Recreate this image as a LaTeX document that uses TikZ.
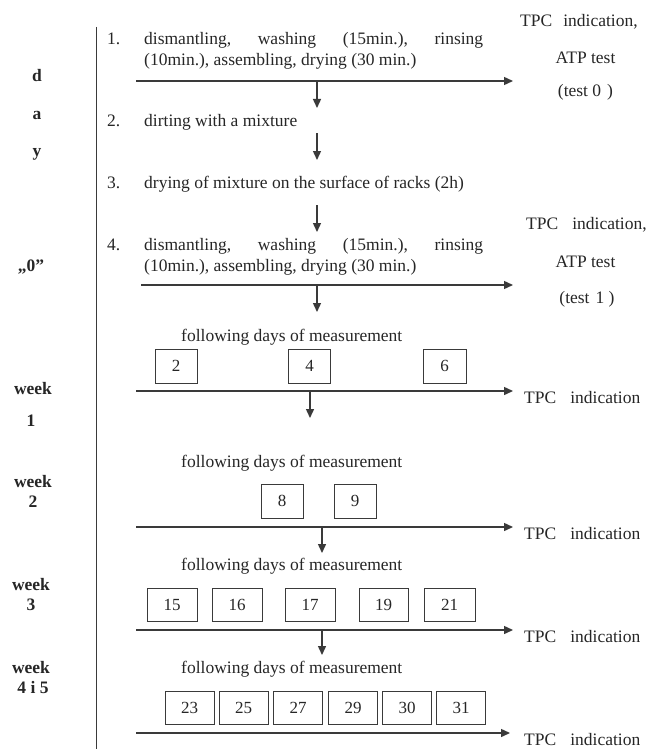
\documentclass[tikz,border=0pt]{standalone}
\usepackage{fontspec}
\setmainfont{Liberation Serif}
\usetikzlibrary{arrows.meta}
\definecolor{ink}{HTML}{262626}
\definecolor{rule}{HTML}{3A3A3A}
\begin{document}
\begin{tikzpicture}[x=1pt,y=-1pt,
  txt/.style={inner sep=0pt, anchor=base west, font=\fontsize{17.5}{21}\selectfont, text=ink},
  ctxt/.style={inner sep=0pt, anchor=base, font=\fontsize{17.5}{21}\selectfont, text=ink},
  lab/.style={inner sep=0pt, anchor=base, font=\bfseries\fontsize{17.5}{21}\selectfont, text=ink},
  daybox/.style={draw=rule, line width=1pt, minimum height=33pt, inner sep=0pt, font=\fontsize{17}{20}\selectfont, text=ink},
  flow/.style={draw=rule, line width=1.4pt, -{Triangle[length=9pt,width=8pt]}},
  axis/.style={draw=rule, line width=1.3pt},
]
\useasboundingbox (0,0) rectangle (647,749);
\fill[white] (0,0) rectangle (647,749);

% vertical separator
\coordinate (vtop) at (96.5,27);
\coordinate (vbot) at (96.5,749);
\draw[axis] (vtop) -- (vbot);

% left labels
\node[lab] (ld) at (37,82) {d};
\node[lab] (la) at (37,120) {a};
\node[lab] (ly) at (37,157) {y};
\node[lab] (l0) at (31,271) {„0”};
\node[lab] (w1a) at (33,394) {week};
\node[lab] (w1b) at (31,426) {1};
\node[lab] (w2a) at (33,487) {week};
\node[lab] (w2b) at (33,507) {2};
\node[lab] (w3a) at (31,590) {week};
\node[lab] (w3b) at (31,610) {3};
\node[lab] (w4a) at (31,673) {week};
\node[lab] (w4b) at (33,693) {4 i 5};

% step 1
\node[txt] (n1) at (107,45) {1.};
\node[txt] (s1a) at (144,45) {\hbox to 339pt{dismantling,\hfill washing\hfill (15min.),\hfill rinsing}};
\node[txt] (s1b) at (144,66) {(10min.), assembling, drying (30 min.)};
% step 2
\node[txt] (n2) at (107,127) {2.};
\node[txt] (s2) at (144,127) {dirting with a mixture};
% step 3
\node[txt] (n3) at (107,188) {3.};
\node[txt] (s3) at (144,188) {drying of mixture on the surface of racks (2h)};
% step 4
\node[txt] (n4) at (107,250) {4.};
\node[txt] (s4a) at (144,250) {\hbox to 339pt{dismantling,\hfill washing\hfill (15min.),\hfill rinsing}};
\node[txt] (s4b) at (144,271) {(10min.), assembling, drying (30 min.)};

% right-hand results
\node[txt] (r1a) at (520,27) {TPC\hspace{11pt}indication,};
\node[ctxt] (r1b) at (585.5,64) {ATP test};
\node[ctxt] (r1c) at (585.5,97) {(test 0\hspace{6pt})};
\node[txt] (r2a) at (526,229) {TPC\hspace{14pt}indication,};
\node[ctxt] (r2b) at (585.5,267) {ATP test};
\node[ctxt] (r2c) at (587,303) {(test\hspace{6pt}1 )};
\node[txt] (r3) at (524,403) {TPC\hspace{14pt}indication};
\node[txt] (r4) at (524,539) {TPC\hspace{14pt}indication};
\node[txt] (r5) at (524,642) {TPC\hspace{14pt}indication};
\node[txt] (r6) at (524,745) {TPC\hspace{14pt}indication};

% following days captions
\node[txt] (f1) at (181,341) {following days of measurement};
\node[txt] (f2) at (181,467) {following days of measurement};
\node[txt] (f3) at (181,570) {following days of measurement};
\node[txt] (f4) at (181,673) {following days of measurement};

% day boxes
\node[daybox, minimum width=42pt, minimum height=34pt] (b2) at (176,366) {2};
\node[daybox, minimum width=42pt, minimum height=34pt] (b4) at (309.5,366) {4};
\node[daybox, minimum width=43pt, minimum height=34pt] (b6) at (444.5,366) {6};

\node[daybox, minimum width=42pt, minimum height=34pt] (b8) at (282,501) {8};
\node[daybox, minimum width=42pt, minimum height=34pt] (b9) at (355,501) {9};

\node[daybox, minimum width=50pt] (b15) at (172,604.5) {15};
\node[daybox, minimum width=50pt] (b16) at (237,604.5) {16};
\node[daybox, minimum width=50pt] (b17) at (310,604.5) {17};
\node[daybox, minimum width=49pt] (b19) at (383.5,604.5) {19};
\node[daybox, minimum width=51pt] (b21) at (449.5,604.5) {21};

\node[daybox, minimum width=49pt] (b23) at (189.5,707.5) {23};
\node[daybox, minimum width=49pt] (b25) at (243.5,707.5) {25};
\node[daybox, minimum width=49pt] (b27) at (298,707.5) {27};
\node[daybox, minimum width=49pt] (b29) at (353,707.5) {29};
\node[daybox, minimum width=49pt] (b30) at (407,707.5) {30};
\node[daybox, minimum width=49pt] (b31) at (461,707.5) {31};

% horizontal arrows
\coordinate (h1s) at (136,81);  \coordinate (h1e) at (513,81);
\coordinate (h2s) at (141,285); \coordinate (h2e) at (513,285);
\coordinate (h3s) at (136,391); \coordinate (h3e) at (513,391);
\coordinate (h4s) at (136,527); \coordinate (h4e) at (513,527);
\coordinate (h5s) at (136,630); \coordinate (h5e) at (513,630);
\coordinate (h6s) at (136,733); \coordinate (h6e) at (510,733);
\foreach \i in {1,...,6} { \draw[flow] (h\i s) -- (h\i e); }

% vertical arrows
\coordinate (d1s) at (317,81);  \coordinate (d1e) at (317,108);
\coordinate (d2s) at (317,133); \coordinate (d2e) at (317,160);
\coordinate (d3s) at (317,205); \coordinate (d3e) at (317,232);
\coordinate (d4s) at (317,285); \coordinate (d4e) at (317,312);
\coordinate (d5s) at (310,391); \coordinate (d5e) at (310,418);
\coordinate (d6s) at (322,527); \coordinate (d6e) at (322,553);
\coordinate (d7s) at (322,630); \coordinate (d7e) at (322,655);
\foreach \i in {1,...,7} { \draw[flow] (d\i s) -- (d\i e); }
\end{tikzpicture}
\end{document}
